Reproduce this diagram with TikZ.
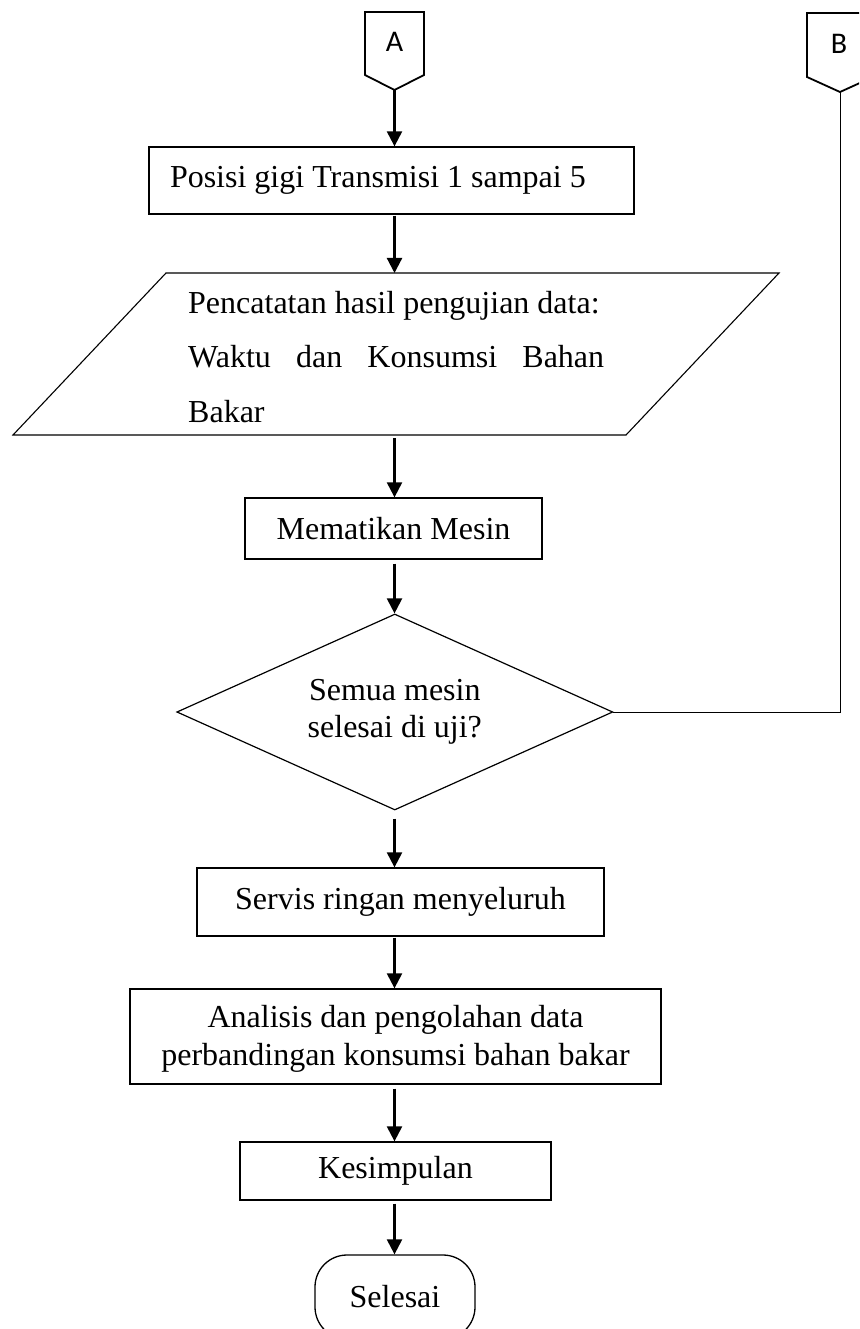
\documentclass[tikz,border=0pt]{standalone}
\usepackage{fontspec}
\setmainfont{Liberation Serif}
\newfontfamily\calfont{Carlito}
\usetikzlibrary{arrows.meta,shapes.geometric}
\begin{document}
\begin{tikzpicture}[x=1pt,y=-1pt,
  every node/.style={font=\fontsize{32pt}{37pt}\selectfont},
  procbox/.style={draw,line width=1.3pt,inner sep=0pt,align=center},
  connbox/.style={draw,line width=1.8pt,line join=miter},
  conntext/.style={font=\calfont\fontsize{30pt}{34pt}\selectfont,inner sep=0pt},
  arr/.style={line width=2.2pt,-{Triangle[length=15pt,width=15pt]},shorten <=3pt},
  thinline/.style={line width=0.9pt}]
\path[use as bounding box,clip] (0,0) rectangle (859,1329);

% off-page connectors
\draw[connbox] (365,12) -- (424,12) -- (424,75) -- (394.5,90) -- (365,75) -- cycle;
\coordinate (Atip) at (394.5,90);
\node[conntext] (A) at (394.5,42) {A};
\draw[connbox] (807,13) -- (873,13) -- (873,77) -- (840,92) -- (807,77) -- cycle;
\coordinate (Btip) at (840,92);
\node[conntext] (B) at (839,44) {B};

\coordinate (axis) at (394.5,0);

% process 1
\node[procbox,minimum width=485pt,minimum height=67pt,text width=443pt,
      inner xsep=21pt,align=flush left] (box1) at (391.5,180.5)
      {Posisi gigi Transmisi 1 sampai 5};

% data (parallelogram)
\draw[line width=1.1pt,line join=miter] (166,273) -- (779,273) -- (626,435) -- (13,435) -- cycle;
\coordinate (pT) at (394.5,273);
\coordinate (pB) at (394.5,435);
\node[anchor=base west,inner sep=0pt] (pl1) at (188,313) {Pencatatan hasil pengujian data:};
\node[anchor=base west,inner sep=0pt] (pl2) at (188,367.5) {\makebox[416pt][s]{Waktu dan Konsumsi Bahan}};
\node[anchor=base west,inner sep=0pt] (pl3) at (188,422.5) {Bakar};

\node[procbox,minimum width=297pt,minimum height=61pt] (mati) at (393.5,528.5) {Mematikan Mesin};

\node[draw,diamond,line width=1.2pt,minimum width=436pt,minimum height=196pt,
      inner sep=0pt,aspect=2.2,align=center] (dia) at (394.8,712)
      {Semua mesin\\selesai di uji?};

\node[procbox,minimum width=407pt,minimum height=68pt] (servis) at (400.5,902) {Servis ringan menyeluruh};

\node[procbox,minimum width=531pt,minimum height=95pt,
      font=\fontsize{32pt}{38pt}\selectfont] (anal) at (395.5,1036.5)
      {\rule{0pt}{26pt}Analisis dan pengolahan data\\perbandingan konsumsi bahan bakar};

\node[procbox,minimum width=311pt,minimum height=58pt] (kes) at (395.5,1171) {Kesimpulan};

\node[draw,line width=1.3pt,rounded corners=32pt,minimum width=160pt,minimum height=84pt,
      inner sep=0pt] (sel) at (395,1297) {Selesai};

% connectors
\draw[arr,shorten <=0pt] (Atip) -- (axis |- box1.north);
\draw[arr,shorten <=1pt] (axis |- box1.south) -- (pT);
\draw[arr] (pB) -- (axis |- mati.north);
\draw[arr,shorten <=4pt] (axis |- mati.south) -- (axis |- dia.north);
\draw[arr,shorten <=8pt] (axis |- dia.south) -- (axis |- servis.north);
\draw[arr,shorten <=1pt] (axis |- servis.south) -- (axis |- anal.north);
\draw[arr,shorten <=4pt] (axis |- anal.south) -- (axis |- kes.north);
\draw[arr] (axis |- kes.south) -- (axis |- sel.north);
\draw[thinline] (Btip) |- (dia.east);
\end{tikzpicture}
\end{document}
